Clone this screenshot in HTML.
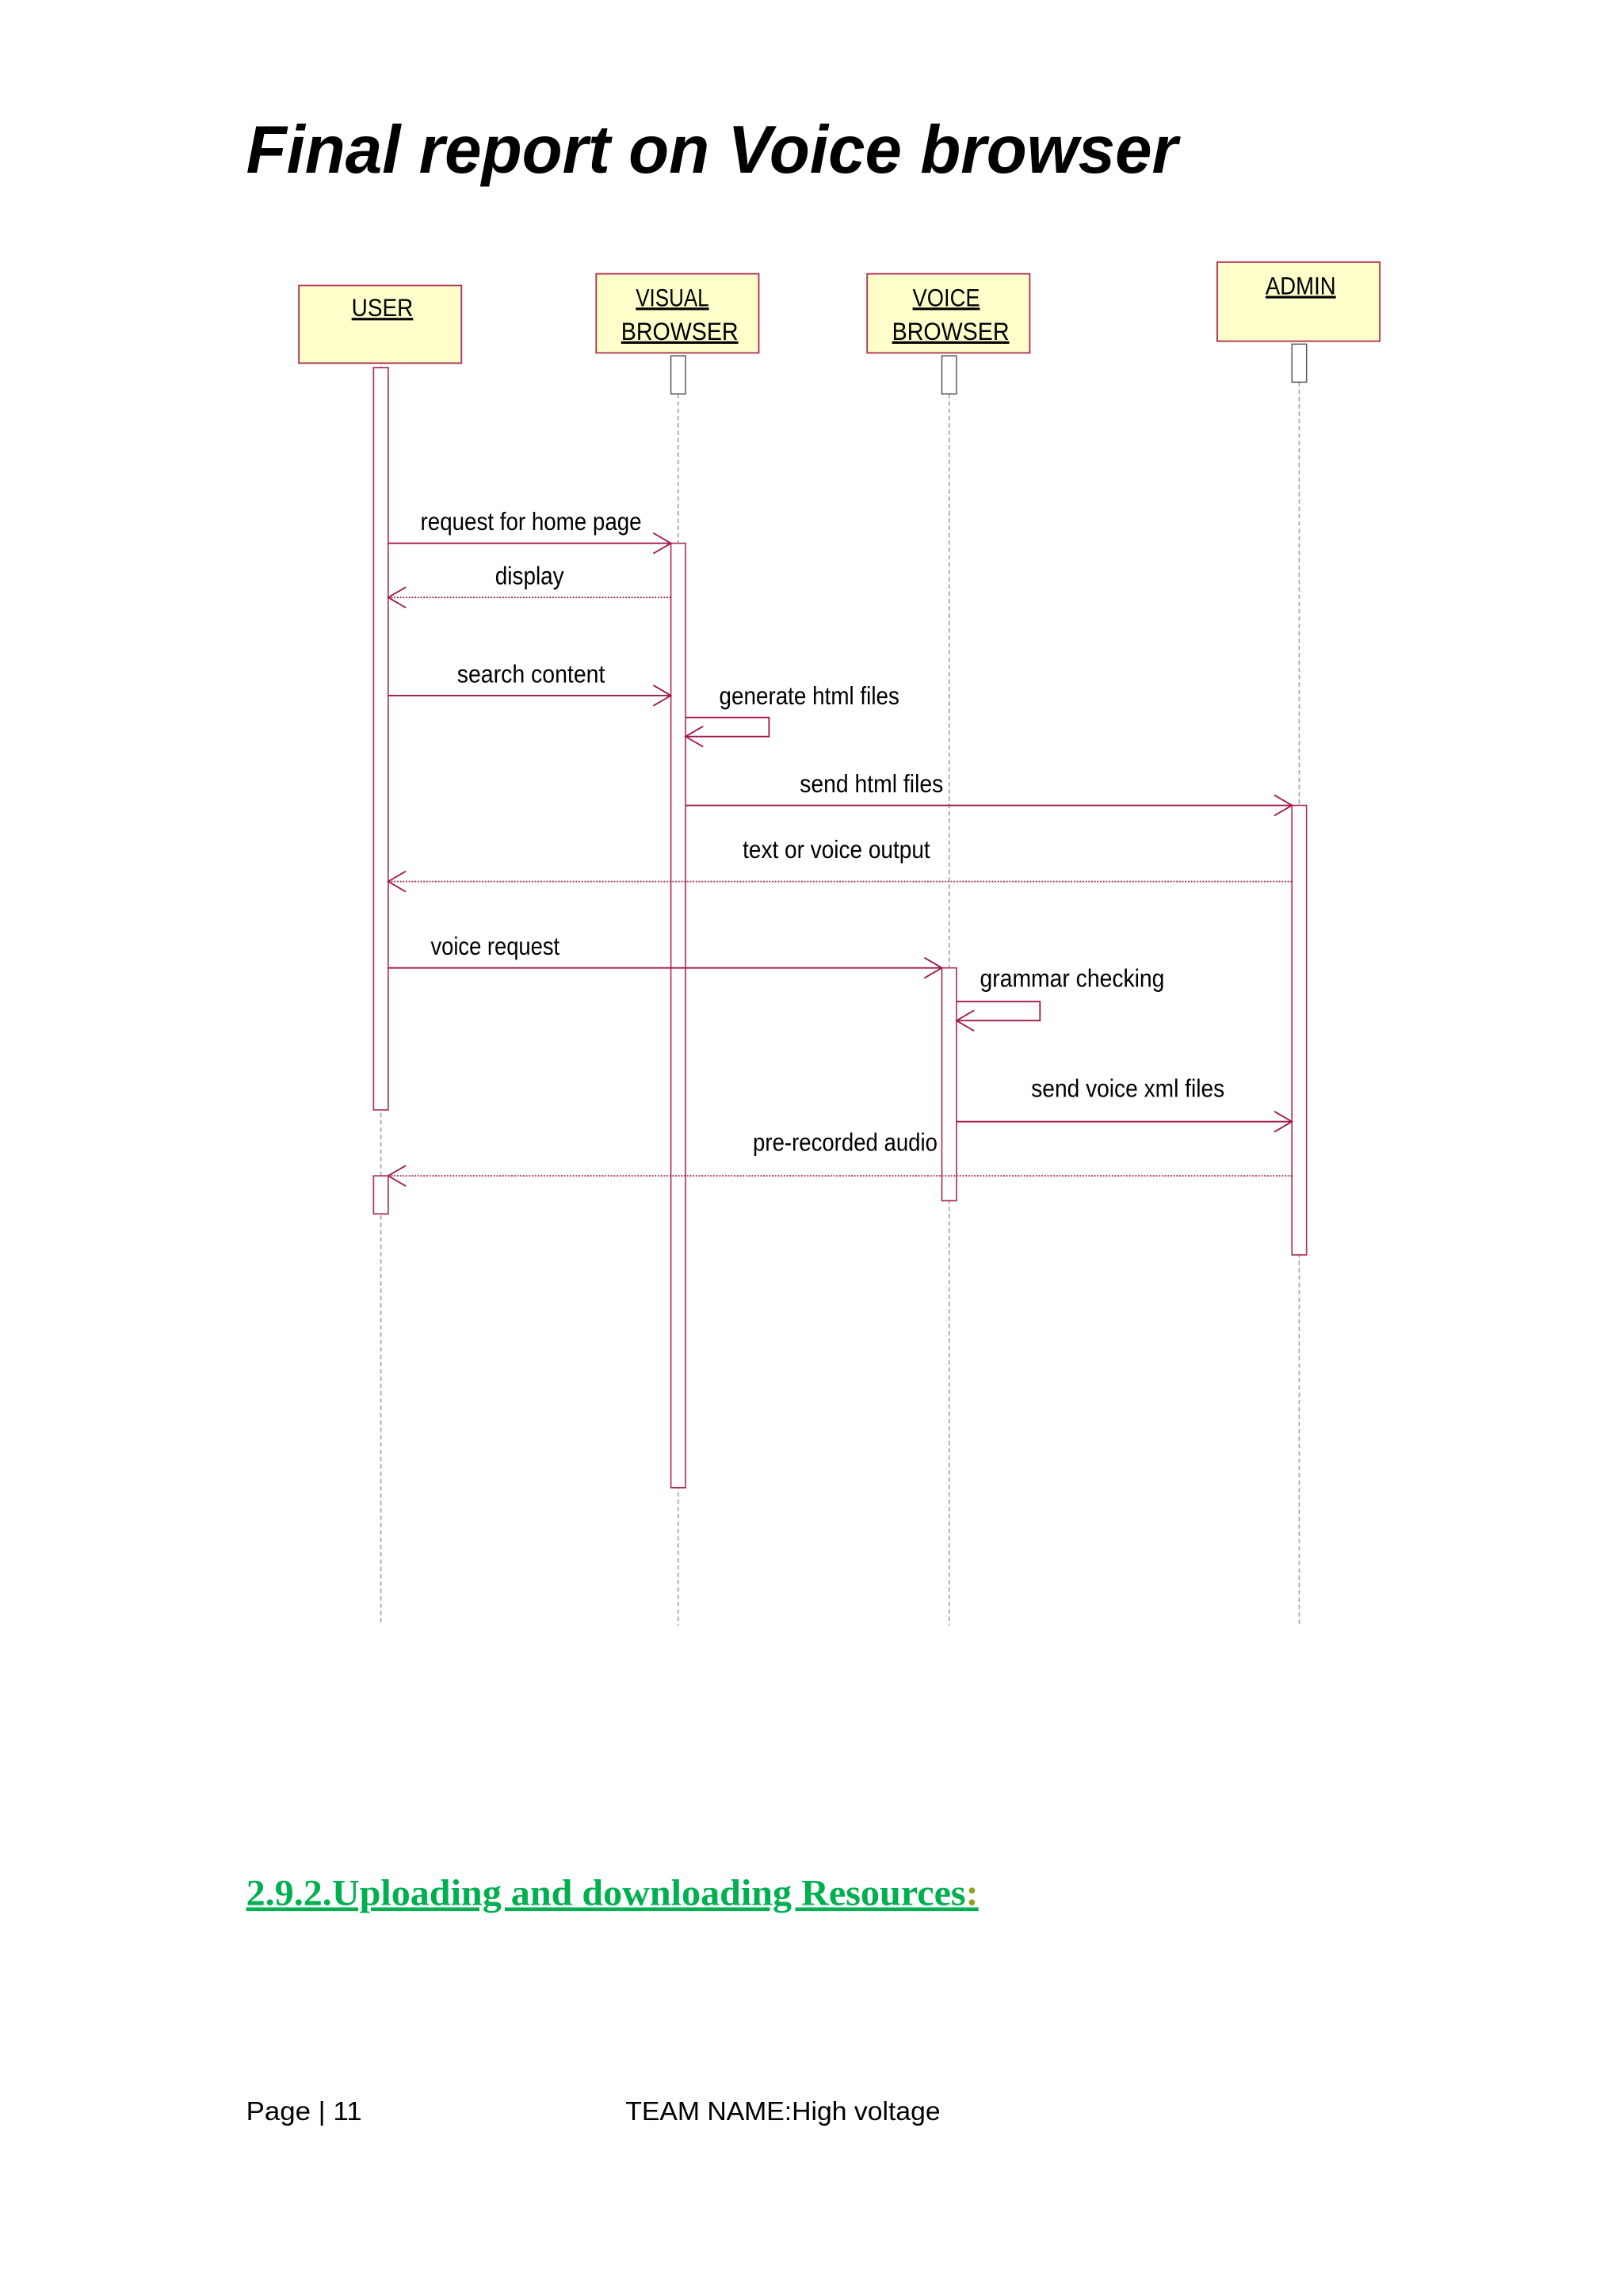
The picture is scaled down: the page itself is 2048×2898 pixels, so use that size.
<!DOCTYPE html>
<html><head><meta charset="utf-8"><style>
html,body{margin:0;padding:0;background:#fff}
svg{display:block}
.d{font-family:"Liberation Sans",sans-serif;font-size:17px;fill:#000}
</style></head><body>
<svg width="2048" height="2898" viewBox="0 0 1108 1568" xmlns="http://www.w3.org/2000/svg">
<text x="168" y="118" font-family="Liberation Sans, sans-serif" font-weight="bold" font-style="italic" font-size="46" textLength="636" lengthAdjust="spacingAndGlyphs">Final report on Voice browser</text>
<g stroke="#999" stroke-width="0.8" stroke-dasharray="3,2" fill="none">
<line x1="260" y1="250" x2="260" y2="1110"/><line x1="463" y1="269" x2="463" y2="1110"/>
<line x1="648" y1="269" x2="648" y2="1110"/><line x1="887" y1="261" x2="887" y2="1110"/>
</g>
<g fill="#ffffcc" stroke="#b03050" stroke-width="1">
<rect x="204" y="195" width="111" height="53"/><rect x="407" y="187" width="111" height="54"/>
<rect x="592" y="187" width="111" height="54"/><rect x="831" y="179" width="111" height="54"/>
</g>
<g class="d" text-decoration="underline" lengthAdjust="spacingAndGlyphs">
<text x="240" y="216" textLength="42" lengthAdjust="spacingAndGlyphs">USER</text>
<text x="434" y="209" textLength="50" lengthAdjust="spacingAndGlyphs">VISUAL</text>
<text x="424" y="232" textLength="80" lengthAdjust="spacingAndGlyphs">BROWSER</text>
<text x="623" y="209" textLength="46" lengthAdjust="spacingAndGlyphs">VOICE</text>
<text x="609" y="232" textLength="80" lengthAdjust="spacingAndGlyphs">BROWSER</text>
<text x="864" y="201" textLength="48" lengthAdjust="spacingAndGlyphs">ADMIN</text>
</g>
<g fill="#fff" stroke="#555" stroke-width="0.8">
<rect x="458" y="243" width="10" height="26"/><rect x="643" y="243" width="10" height="26"/><rect x="882" y="235" width="10" height="26"/>
</g>
<g fill="#fff" stroke="#b03050" stroke-width="0.9">
<rect x="255" y="251" width="10" height="507"/><rect x="255" y="803" width="10" height="26"/>
<rect x="458" y="371" width="10" height="645"/><rect x="643" y="661" width="10" height="159"/>
<rect x="882" y="550" width="10" height="307"/>
</g>
<g stroke="#a0184a" stroke-width="1" fill="none">
<line x1="265" y1="371" x2="458" y2="371"/><path d="M446 364 L458 371 L446 378"/>
<line x1="265" y1="408" x2="458" y2="408" stroke-dasharray="1,1"/><path d="M277 401 L265 408 L277 415"/>
<line x1="265" y1="475" x2="458" y2="475"/><path d="M446 468 L458 475 L446 482"/>
<path d="M468 490 H525 V503 H468"/><path d="M480 496 L468 503 L480 510"/>
<line x1="468" y1="550" x2="882" y2="550"/><path d="M870 543 L882 550 L870 557"/>
<line x1="265" y1="602" x2="882" y2="602" stroke-dasharray="1,1"/><path d="M277 595 L265 602 L277 609"/>
<line x1="265" y1="661" x2="643" y2="661"/><path d="M631 654 L643 661 L631 668"/>
<path d="M653 684 H710 V697 H653"/><path d="M665 690 L653 697 L665 704"/>
<line x1="653" y1="766" x2="882" y2="766"/><path d="M870 759 L882 766 L870 773"/>
<line x1="265" y1="803" x2="882" y2="803" stroke-dasharray="1,1"/><path d="M277 796 L265 803 L277 810"/>
</g>
<g class="d">
<text x="287" y="362" textLength="151" lengthAdjust="spacingAndGlyphs">request for home page</text>
<text x="338" y="399" textLength="47" lengthAdjust="spacingAndGlyphs">display</text>
<text x="312" y="466" textLength="101" lengthAdjust="spacingAndGlyphs">search content</text>
<text x="491" y="481" textLength="123" lengthAdjust="spacingAndGlyphs">generate html files</text>
<text x="546" y="541" textLength="98" lengthAdjust="spacingAndGlyphs">send html files</text>
<text x="507" y="586" textLength="128" lengthAdjust="spacingAndGlyphs">text or voice output</text>
<text x="294" y="652" textLength="88" lengthAdjust="spacingAndGlyphs">voice request</text>
<text x="669" y="674" textLength="126" lengthAdjust="spacingAndGlyphs">grammar checking</text>
<text x="704" y="749" textLength="132" lengthAdjust="spacingAndGlyphs">send voice xml files</text>
<text x="514" y="786" textLength="126" lengthAdjust="spacingAndGlyphs">pre-recorded audio</text>
</g>
<text x="168" y="1301" font-family="Liberation Serif, serif" font-weight="bold" font-size="25" fill="#00b050" text-decoration="underline" textLength="500" lengthAdjust="spacingAndGlyphs">2.9.2.Uploading and downloading Resources<tspan fill="#92a020">:</tspan></text>
<text x="168" y="1448" font-family="Liberation Sans, sans-serif" font-size="18" textLength="79" lengthAdjust="spacingAndGlyphs">Page | 11</text>
<text x="427" y="1448" font-family="Liberation Sans, sans-serif" font-size="18" textLength="215" lengthAdjust="spacingAndGlyphs">TEAM NAME:High voltage</text>
</svg>
</body></html>
